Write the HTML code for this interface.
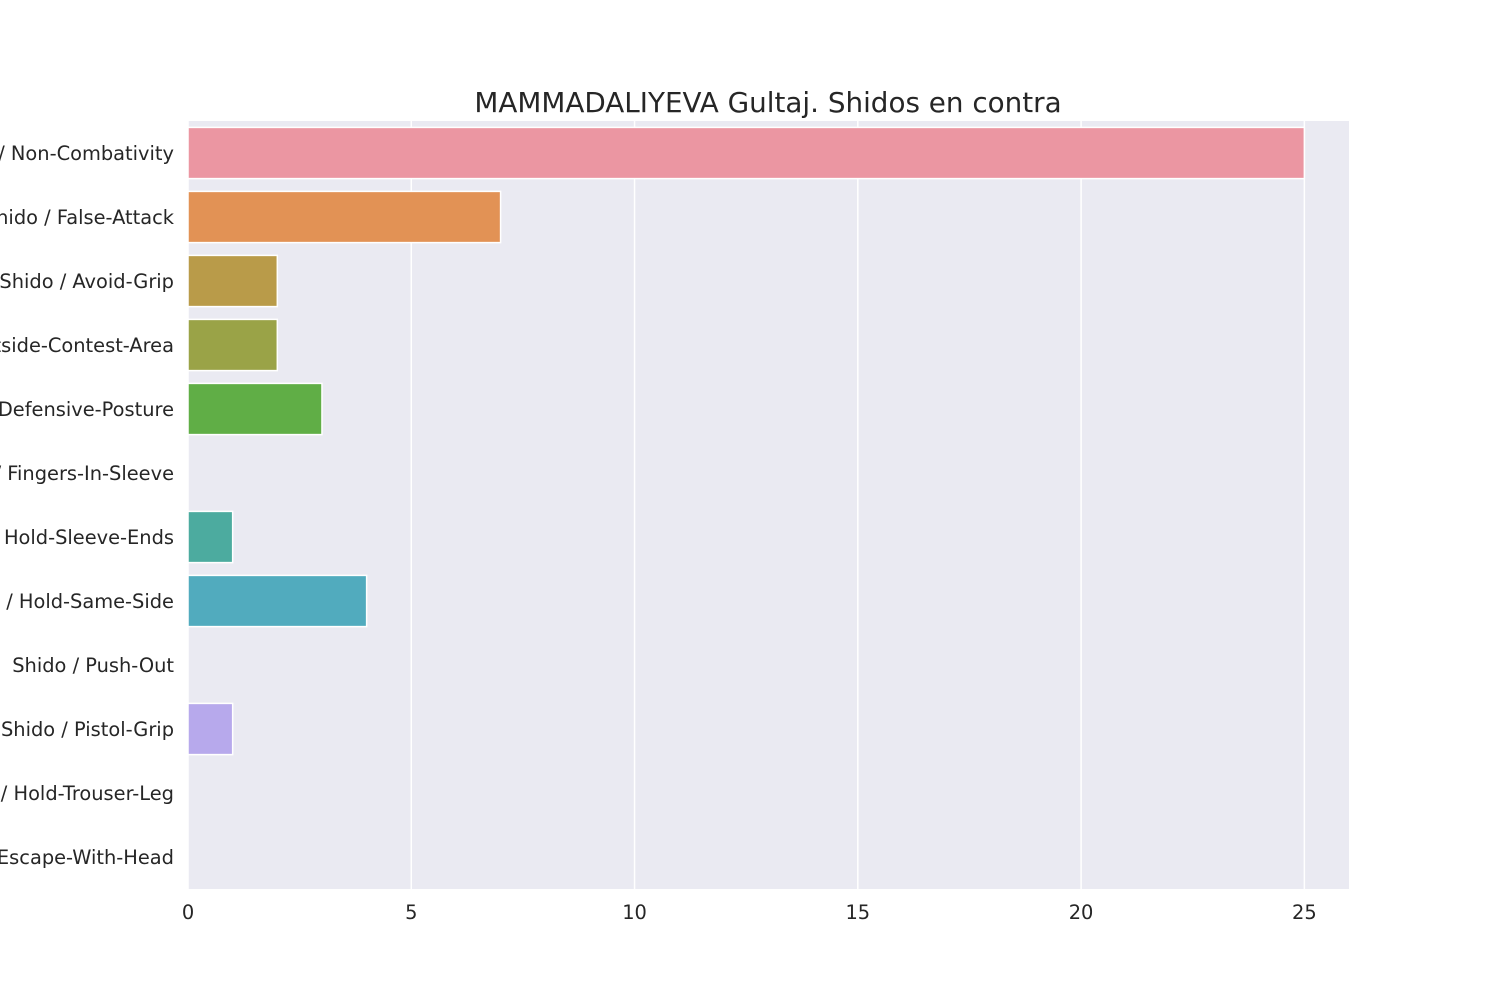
<!DOCTYPE html>
<html><head><meta charset="utf-8"><style>
body{margin:0;background:#fff;}
svg{display:block;font-family:"DejaVu Sans","Liberation Sans",sans-serif;}
</style></head><body>
<svg id="chart" width="1500" height="1000"></svg>
<script>
const categories=["Shido / Non-Combativity","Shido / False-Attack","Shido / Avoid-Grip","Shido / Outside-Contest-Area","Shido / Defensive-Posture","Shido / Fingers-In-Sleeve","Shido / Hold-Sleeve-Ends","Shido / Hold-Same-Side","Shido / Push-Out","Shido / Pistol-Grip","Shido / Hold-Trouser-Leg","Shido / Escape-With-Head"];
const values=[25,7,2,2,3,0,1,4,0,1,0,0];
const colors=["#eb96a2","#e29255","#b99b49","#9aa347","#60ae46","#50b07a","#4cab9f","#51abbe","#6aa3e8","#b7a9ec","#e28ee0","#e893c3"];
const xTicks=[0,5,10,15,20,25];
const NS="http://www.w3.org/2000/svg";
const svg=document.getElementById('chart');
const L=188,R=1349,T=121,B=889,XMAX=26;
const x=v=>L+(R-L)*v/XMAX;
const band=(B-T)/categories.length;
const y=i=>T+band*i;
function mk(t,a,p){const e=document.createElementNS(NS,t);for(const k in a)e.setAttribute(k,a[k]);(p||svg).appendChild(e);return e;}
const bg=mk('rect',{x:L,y:T,width:R-L,height:B-T,fill:'#eaeaf2'});


xTicks.forEach(t=>{
  const g=mk('line',{x1:x(t),x2:x(t),y1:T,y2:B,stroke:'#fff','stroke-width':1.5});
  
  
  const l=mk('text',{x:x(t),y:919,'text-anchor':'middle','font-size':19.4,fill:'#262626'});
  l.textContent=t;
  
  
});
categories.forEach((c,i)=>{
  const r=mk('rect',{x:L,y:y(i)+band*0.1,width:x(values[i])-L,height:band*0.8,fill:colors[i],stroke:'#fff','stroke-width':1.5});
  
  
  const t=mk('text',{x:174,y:y(i)+band/2+7,'text-anchor':'end','font-size':19.4,fill:'#262626'});
  t.textContent=c;
  
  
});
const ti=mk('text',{x:768,y:112,'text-anchor':'middle','font-size':27.8,fill:'#262626'});
ti.textContent="MAMMADALIYEVA Gultaj. Shidos en contra";


</script>
</body></html>
